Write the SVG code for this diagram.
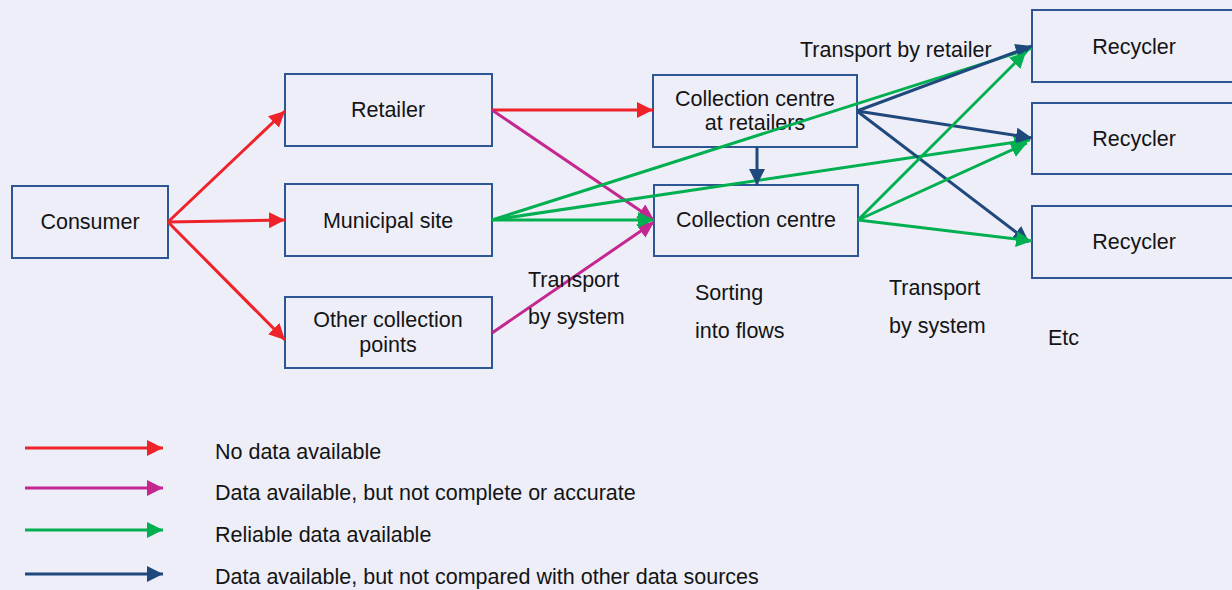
<svg xmlns="http://www.w3.org/2000/svg" width="1232" height="590" viewBox="0 0 1232 590">
  <style>
    .box { fill: none; stroke: #2C5794; stroke-width: 2; }
    text { font-family: "Liberation Sans", Arial, sans-serif; font-size: 21.5px; fill: #141414; }
    .c { text-anchor: middle; }
    .ln { fill: none; stroke-width: 3; }
    .red { stroke: #EE2229; marker-end: url(#hRed); }
    .mag { stroke: #C4278F; marker-end: url(#hMag); }
    .grn { stroke: #00B050; marker-end: url(#hGrn); }
    .nav { stroke: #1F497D; marker-end: url(#hNav); }
  </style>
  <defs>
    <marker id="hRed" markerUnits="userSpaceOnUse" markerWidth="17" markerHeight="17" refX="16" refY="8" orient="auto"><path d="M0,0 L16,8 L0,16 z" fill="#EE2229"/></marker>
    <marker id="hMag" markerUnits="userSpaceOnUse" markerWidth="17" markerHeight="17" refX="16" refY="8" orient="auto"><path d="M0,0 L16,8 L0,16 z" fill="#C4278F"/></marker>
    <marker id="hGrn" markerUnits="userSpaceOnUse" markerWidth="17" markerHeight="17" refX="16" refY="8" orient="auto"><path d="M0,0 L16,8 L0,16 z" fill="#00B050"/></marker>
    <marker id="hNav" markerUnits="userSpaceOnUse" markerWidth="17" markerHeight="17" refX="16" refY="8" orient="auto"><path d="M0,0 L16,8 L0,16 z" fill="#1F497D"/></marker>
  </defs>

  <rect width="1232" height="590" fill="#EEEEF8"/>

  <g id="consumer"><rect class="box" x="12" y="186" width="156" height="72"/><text class="c" x="90" y="229">Consumer</text></g>
  <g id="retailer"><rect class="box" x="285" y="74" width="207" height="72"/><text class="c" x="388" y="117">Retailer</text></g>
  <g id="municipal"><rect class="box" x="285" y="184" width="207" height="72"/><text class="c" x="388" y="228">Municipal site</text></g>
  <g id="other"><rect class="box" x="285" y="297" width="207" height="71"/><text class="c" x="388" y="327">Other collection</text><text class="c" x="388" y="352">points</text></g>
  <g id="ccr"><rect class="box" x="653" y="75" width="204" height="72"/><text class="c" x="755" y="106">Collection centre</text><text class="c" x="755" y="130">at retailers</text></g>
  <g id="cc"><rect class="box" x="654" y="185" width="204" height="71"/><text class="c" x="756" y="227">Collection centre</text></g>
  <g id="rec1"><rect class="box" x="1032" y="10" width="210" height="72"/><text class="c" x="1134" y="54">Recycler</text></g>
  <g id="rec2"><rect class="box" x="1032" y="103" width="210" height="71"/><text class="c" x="1134" y="146">Recycler</text></g>
  <g id="rec3"><rect class="box" x="1032" y="206" width="210" height="72"/><text class="c" x="1134" y="249">Recycler</text></g>

  <g id="connectors">
    <line class="ln red" x1="168" y1="222" x2="285" y2="111"/>
    <line class="ln red" x1="168" y1="222" x2="285" y2="220"/>
    <line class="ln red" x1="168" y1="222" x2="285" y2="340"/>
    <line class="ln red" x1="492" y1="110" x2="653" y2="110"/>
    <line class="ln mag" x1="492" y1="110" x2="654" y2="220"/>
    <line class="ln mag" x1="492" y1="333" x2="654" y2="222"/>
    <line class="ln grn" x1="492" y1="220" x2="654" y2="220"/>
    <line class="ln grn" x1="492" y1="220" x2="1032" y2="48"/>
    <line class="ln grn" x1="492" y1="220" x2="1030" y2="140"/>
    <line class="ln nav" x1="757" y1="147" x2="757" y2="185"/>
    <line class="ln nav" x1="857" y1="111" x2="1032" y2="46"/>
    <line class="ln nav" x1="857" y1="111" x2="1032" y2="138"/>
    <line class="ln nav" x1="857" y1="111" x2="1029" y2="242"/>
    <line class="ln grn" x1="858" y1="220" x2="1026" y2="52"/>
    <line class="ln grn" x1="858" y1="220" x2="1027" y2="143"/>
    <line class="ln grn" x1="858" y1="220" x2="1032" y2="241"/>
  </g>

  <g id="labels">
    <text x="800" y="57">Transport by retailer</text>
    <text x="528" y="287">Transport</text>
    <text x="528" y="324">by system</text>
    <text x="695" y="300">Sorting</text>
    <text x="695" y="338">into flows</text>
    <text x="889" y="295">Transport</text>
    <text x="889" y="333">by system</text>
    <text x="1048" y="345">Etc</text>
  </g>

  <g id="legend">
    <line class="ln red" x1="25" y1="448" x2="163" y2="448"/>
    <line class="ln mag" x1="25" y1="488" x2="163" y2="488"/>
    <line class="ln grn" x1="25" y1="530" x2="163" y2="530"/>
    <line class="ln nav" x1="25" y1="574" x2="163" y2="574"/>
    <text x="215" y="459">No data available</text>
    <text x="215" y="500">Data available, but not complete or accurate</text>
    <text x="215" y="542">Reliable data available</text>
    <text x="215" y="584">Data available, but not compared with other data sources</text>
  </g>
</svg>
